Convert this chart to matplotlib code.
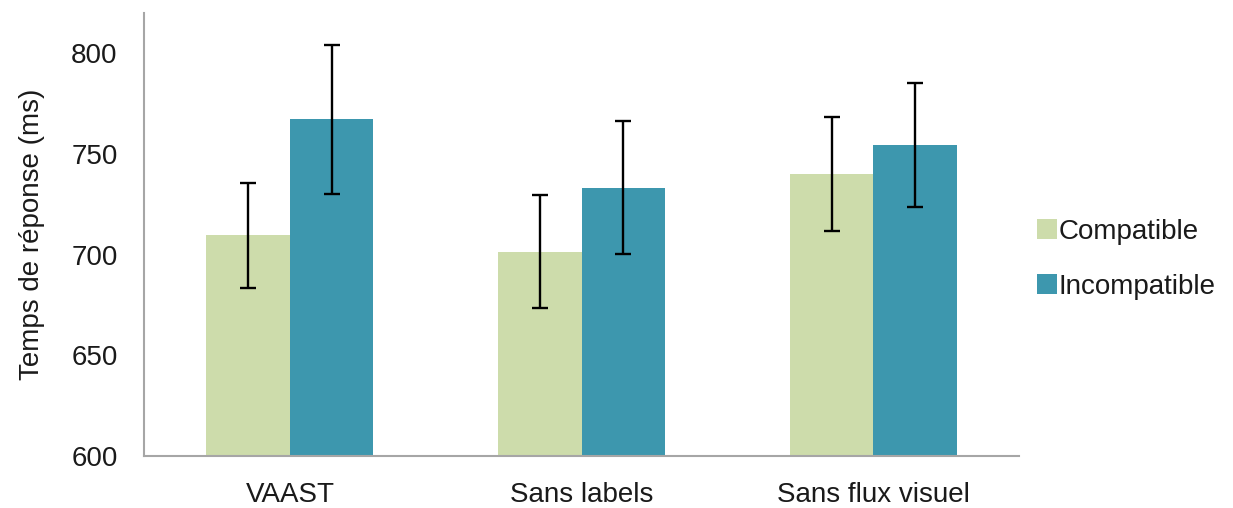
import numpy as np
import matplotlib.pyplot as plt

plt.rcParams['font.family'] = ['Liberation Sans', 'DejaVu Sans']

conditions = ['VAAST', 'Sans labels', 'Sans flux visuel']
compatible = [709.6, 701.5, 740.1]
incompatible = [767.2, 733.3, 754.4]
compatible_err = [26.2, 28.0, 28.2]
incompatible_err = [36.9, 33.0, 30.8]

green = '#CDDCAB'
teal = '#3D97AE'
txt = '#1A1A1A'
fs = 20

fig = plt.figure(figsize=(12.33, 5.08), dpi=100)
ax = fig.add_axes([0.1168, 0.1024, 0.7098, 0.872])

x = np.arange(len(conditions))
w = 0.286
err_kw = dict(ecolor='black', elinewidth=1.7, capsize=6, capthick=1.7)

ax.bar(x - w/2, compatible, w, color=green, label='Compatible',
       yerr=compatible_err, error_kw=err_kw)
ax.bar(x + w/2, incompatible, w, color=teal, label='Incompatible',
       yerr=incompatible_err, error_kw=err_kw)

ax.set_xlim(-0.5, 2.5)
ax.set_ylim(600, 820)
ax.set_yticks([600, 650, 700, 750, 800])
ax.set_xticks(x)
ax.set_xticklabels(conditions)
ax.tick_params(axis='both', length=0, labelsize=fs, colors=txt)
ax.tick_params(axis='x', pad=18.5)
ax.tick_params(axis='y', pad=19)

for side in ['top', 'right']:
    ax.spines[side].set_visible(False)
for side in ['left', 'bottom']:
    ax.spines[side].set_color('#A6A6A6')
    ax.spines[side].set_linewidth(1.5)

ax.set_ylabel('Temps de réponse (ms)', fontsize=fs, color=txt, labelpad=19)

ax.legend(loc='center left', bbox_to_anchor=(1.0, 0.444), frameon=False,
          fontsize=fs, handlelength=0.72, handleheight=0.72, handletextpad=0.05,
          labelspacing=1.05, borderaxespad=0.25, labelcolor=txt)

fig.savefig('out.png', dpi=100)
